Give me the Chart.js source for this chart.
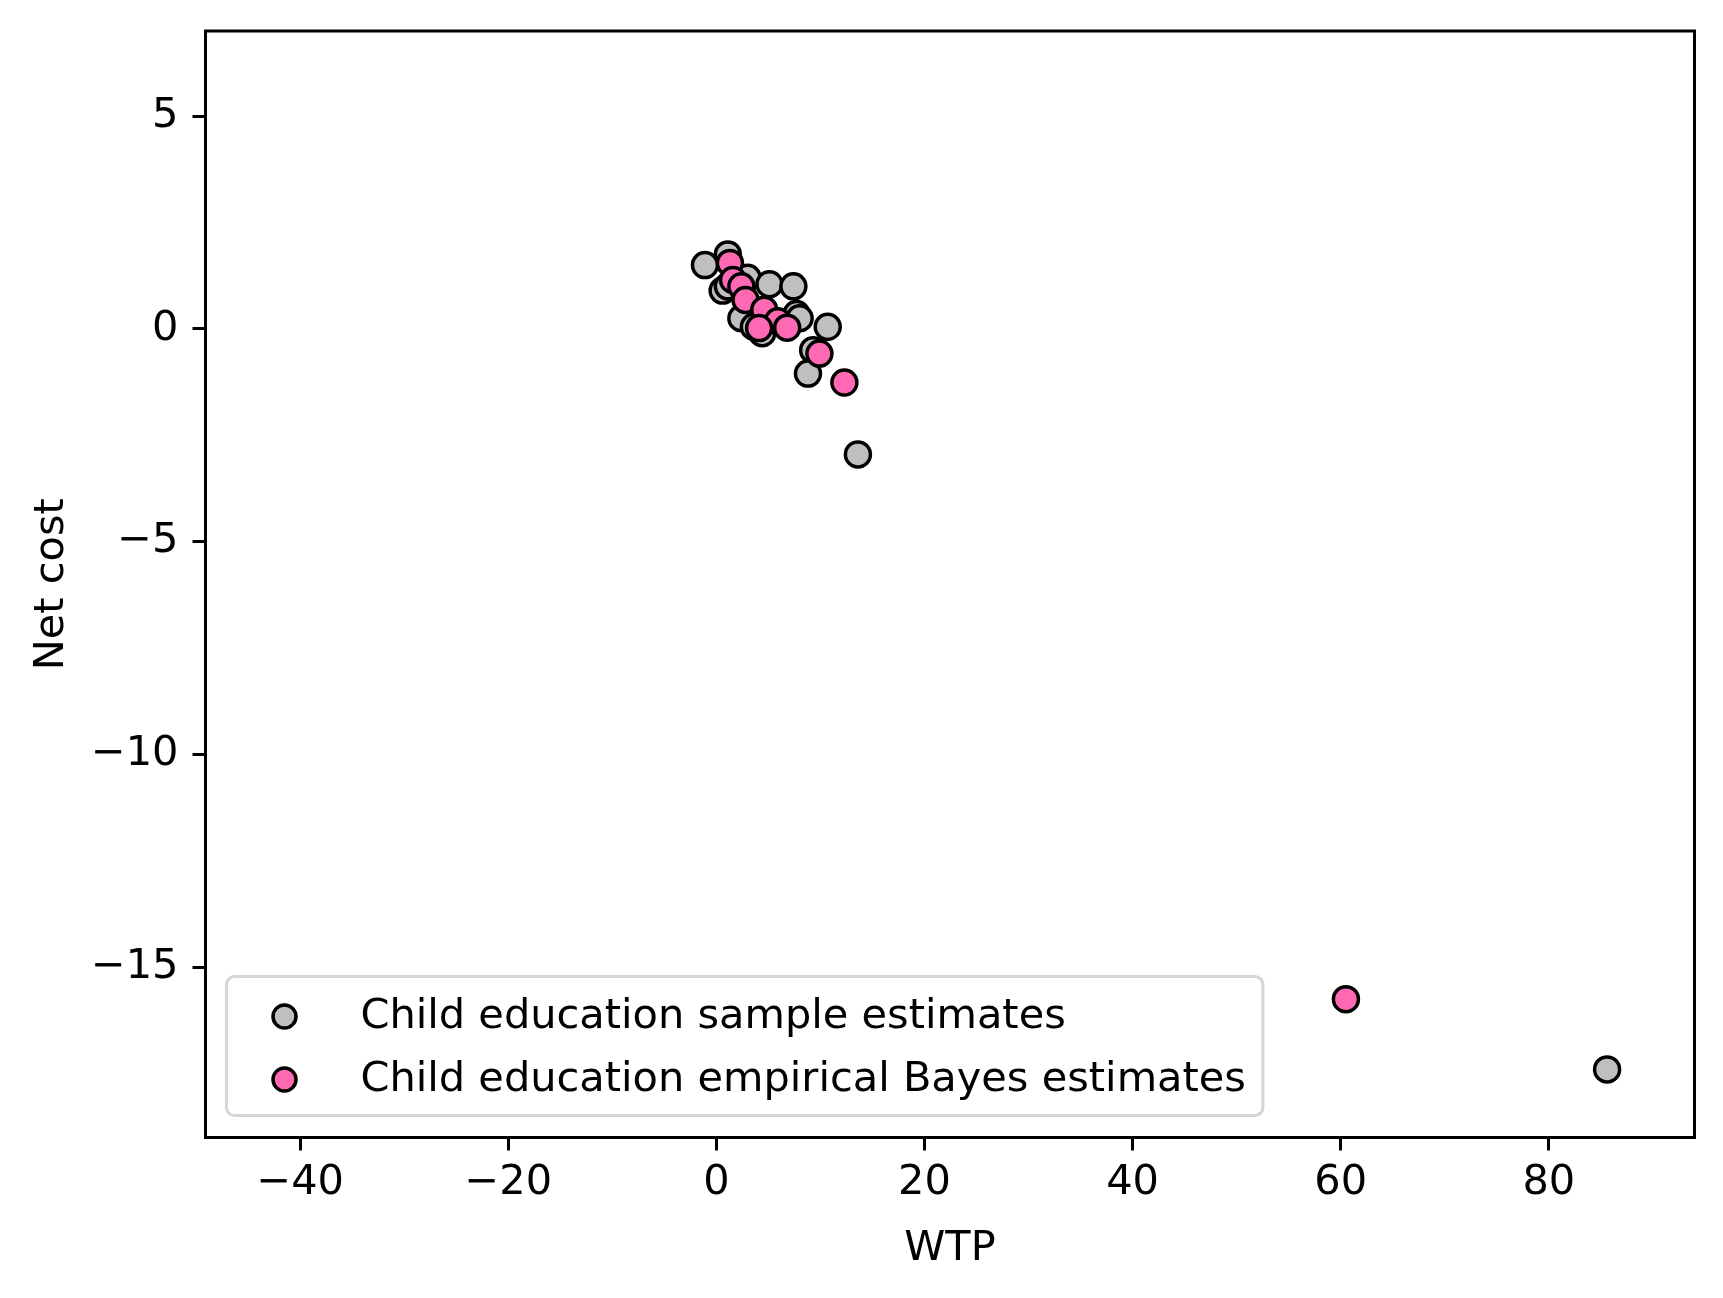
<!DOCTYPE html>
<html>
<head>
<meta charset="utf-8">
<script src="https://cdn.jsdelivr.net/npm/chart.js@4/dist/chart.umd.min.js"></script>
<style>
  body { margin: 0; background: #fff; }
  #wrap { width: 1723px; height: 1298px; position: relative; }
</style>
</head>
<body>
<div id="wrap"><canvas id="myChart"></canvas></div>
<script>
// series: WTP (x), net cost (y)
var sampleWTP  = [-1.1, 1.1, 0.6, 1.1, 3.0, 5.1, 7.4, 2.4, 7.7, 8.0, 10.7, 3.6, 4.4, 9.3, 8.8, 13.6, 85.6];
var sampleCost = [1.5, 1.75, 0.9, 1.0, 1.2, 1.05, 1.0, 0.25, 0.35, 0.25, 0.05, 0.05, -0.1, -0.5, -1.05, -2.95, -17.4];

var bayesWTP  = [1.3, 1.6, 2.4, 2.8, 4.6, 5.9, 6.8, 4.1, 9.9, 12.3, 60.5];
var bayesCost = [1.55, 1.15, 1.0, 0.68, 0.45, 0.18, 0.03, 0.02, -0.58, -1.26, -15.75];

var seriesLabels = ['Child education sample estimates', 'Child education empirical Bayes estimates'];
var xTicks = [-40, -20, 0, 20, 40, 60, 80];
var yTicks = [-15, -10, -5, 0, 5];

function toPoints(xs, ys) {
    var pts = [];
    for (i = 0; i < xs.length; i++) {
        pts.push({x: xs[i], y: ys[i]});
    }
    return pts;
}

function fmt(v) {
    return v < 0 ? '\u2212' + Math.abs(v) : '' + v;
}

var FONT = 'DejaVu Sans';
var FSIZE = 41.5;

// black frame round the plot area
var framePlugin = {
    id: 'frame',
    afterDraw: function(chart) {
        var ca = chart.chartArea, ctx = chart.ctx;
        ctx.save();
        ctx.strokeStyle = '#000';
        ctx.lineWidth = 3;
        ctx.strokeRect(ca.left, ca.top, ca.right - ca.left, ca.bottom - ca.top);
        ctx.restore();
    }
};

// matplotlib style legend in the lower left
var legendPlugin = {
    id: 'boxLegend',
    afterDraw: function(chart) {
        var ca = chart.chartArea, ctx = chart.ctx;
        ctx.save();
        ctx.font = FSIZE + 'px "' + FONT + '"';
        var w = 0;
        chart.data.datasets.forEach(function(ds) {
            w = Math.max(w, ctx.measureText(ds.label).width);
        });
        var left = ca.left + 21;
        var bottom = ca.bottom - 22;
        var top = bottom - 139;
        var right = left + 134 + w + 17;
        var r = 8;
        ctx.beginPath();
        ctx.moveTo(left + r, top);
        ctx.arcTo(right, top, right, bottom, r);
        ctx.arcTo(right, bottom, left, bottom, r);
        ctx.arcTo(left, bottom, left, top, r);
        ctx.arcTo(left, top, right, top, r);
        ctx.closePath();
        ctx.fillStyle = 'rgba(255,255,255,0.8)';
        ctx.fill();
        ctx.strokeStyle = '#d6d6d6';
        ctx.lineWidth = 3;
        ctx.stroke();

        var rows = [top + 40, top + 103];
        chart.data.datasets.forEach(function(ds, k) {
            ctx.beginPath();
            ctx.arc(left + 58, rows[k], 11.5, 0, Math.PI * 2);
            ctx.fillStyle = ds.backgroundColor;
            ctx.fill();
            ctx.lineWidth = 3.5;
            ctx.strokeStyle = '#000';
            ctx.stroke();
            ctx.fillStyle = '#000';
            ctx.textBaseline = 'middle';
            ctx.textAlign = 'left';
            ctx.fillText(ds.label, left + 134, rows[k] + 1);
        });
        ctx.restore();
    }
};

new Chart(document.getElementById('myChart'), {
    type: 'scatter',
    data: {
        datasets: [
            {
                label: seriesLabels[0],
                data: toPoints(sampleWTP, sampleCost),
                backgroundColor: '#bfbfbf',
                borderColor: '#000',
                borderWidth: 3.5,
                pointRadius: 12.5,
                pointHoverRadius: 12.5,
                order: 2
            },
            {
                label: seriesLabels[1],
                data: toPoints(bayesWTP, bayesCost),
                backgroundColor: '#ff69b4',
                borderColor: '#000',
                borderWidth: 3.5,
                pointRadius: 12.5,
                pointHoverRadius: 12.5,
                order: 1
            }
        ]
    },
    options: {
        responsive: true,
        maintainAspectRatio: false,
        devicePixelRatio: 1,
        animation: false,
        layout: { padding: { left: 0, top: 31, right: 28.5, bottom: 0 } },
        plugins: {
            legend: { display: false },
            tooltip: { enabled: false }
        },
        scales: {
            x: {
                type: 'linear',
                min: -49.1,
                max: 94,
                afterBuildTicks: function(scale) {
                    scale.ticks = xTicks.map(function(v) { return {value: v}; });
                },
                afterFit: function(scale) {
                    scale.height = 160.5;
                    scale.paddingLeft = 0;
                    scale.paddingRight = 0;
                },
                ticks: {
                    color: '#000',
                    padding: 8,
                    maxRotation: 0,
                    font: { family: FONT, size: FSIZE },
                    callback: function(v) { return fmt(v); }
                },
                grid: { drawOnChartArea: false, drawTicks: true, tickLength: 13, color: '#000', lineWidth: 3 },
                border: { display: true, color: '#000', width: 3 },
                title: {
                    display: true,
                    text: 'WTP',
                    color: '#000',
                    font: { family: FONT, size: FSIZE },
                    padding: { top: 0, bottom: 24 }
                }
            },
            y: {
                type: 'linear',
                min: -19,
                max: 7,
                afterBuildTicks: function(scale) {
                    scale.ticks = yTicks.map(function(v) { return {value: v}; });
                },
                afterFit: function(scale) {
                    scale.width = 205.5;
                    scale.paddingTop = 0;
                    scale.paddingBottom = 0;
                },
                ticks: {
                    color: '#000',
                    padding: 14,
                    font: { family: FONT, size: FSIZE },
                    callback: function(v) { return fmt(v); }
                },
                grid: { drawOnChartArea: false, drawTicks: true, tickLength: 13, color: '#000', lineWidth: 3 },
                border: { display: true, color: '#000', width: 3 },
                title: {
                    display: true,
                    text: 'Net cost',
                    color: '#000',
                    font: { family: FONT, size: FSIZE },
                    padding: { top: 27, bottom: 0 }
                }
            }
        }
    },
    plugins: [framePlugin, legendPlugin]
});
</script>
</body>
</html>
